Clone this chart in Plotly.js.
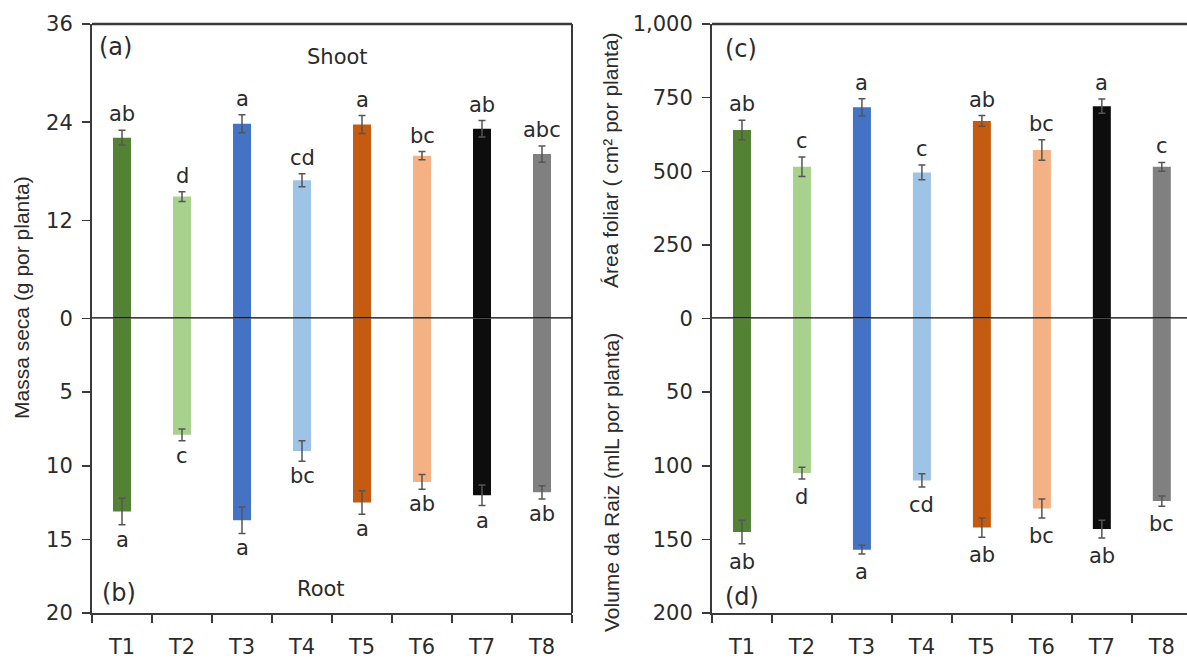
<!DOCTYPE html>
<html>
<head>
<meta charset="utf-8">
<script src="https://cdn.plot.ly/plotly-3.0.1.min.js"></script>
<style>html,body{margin:0;padding:0;background:#fff;}#chart{width:1187px;height:659px;}</style>
</head>
<body>
<div id="chart"></div>
<script>
// ---- data ----
const categories = ['T1','T2','T3','T4','T5','T6','T7','T8'];
const barColors = ['#548235','#a9d18e','#4472c4','#9dc3e6','#c55a11','#f4b183','#0d0d0d','#808080'];

const shootMass = [22.1, 14.9, 23.8, 16.9, 23.7, 19.9, 23.2, 20.1];
const shootErr  = [0.9, 0.6, 1.1, 0.8, 1.1, 0.5, 1.0, 1.0];
const shootLetters = ['ab','d','a','cd','a','bc','ab','abc'];

const rootMass = [13.1, 7.9, 13.7, 9.0, 12.5, 11.1, 12.0, 11.8];
const rootErr  = [0.9, 0.4, 0.9, 0.7, 0.8, 0.5, 0.7, 0.45];
const rootLetters = ['a','c','a','bc','a','ab','a','ab'];

const leafArea = [640, 515, 717, 496, 671, 572, 721, 515];
const leafErr  = [33, 33, 29, 25, 18, 35, 24, 15];
const leafLetters = ['ab','c','a','c','ab','bc','a','c'];

const rootVolume = [145, 105, 157, 110, 142, 129, 143, 124];
const rootVolErr = [8, 4, 3, 4.5, 6.5, 6.5, 6, 3.5];
const volLetters = ['ab','d','a','cd','ab','bc','ab','bc'];

const shootTicks = [12, 24, 36];
const rootTicks = [0, 5, 10, 15, 20];
const leafTicks = [250, 500, 750, 1000];
const leafTickText = ['250','500','750','1,000'];
const volTicks = [0, 50, 100, 150, 200];

// ---- styles ----
const W = 1187;
const HFONT = 'DejaVu Sans, Liberation Sans, Arial, sans-serif';
const VFONT = 'Liberation Sans, Arial, sans-serif';
const textColor = '#2b2b2b';
const lineColor = '#3a3a3a';

function barTrace(y, err, xa, ya) {
  return {
    type: 'bar', x: categories, y: y, xaxis: xa, yaxis: ya,
    width: 0.3,
    marker: {color: barColors, line: {width: 0}},
    error_y: {type: 'data', array: err, visible: true, color: '#555555', thickness: 1.5, width: 3.5},
    hoverinfo: 'x+y', showlegend: false
  };
}

const data = [
  barTrace(shootMass, shootErr, 'x', 'y'),
  barTrace(rootMass, rootErr, 'x', 'y2'),
  barTrace(leafArea, leafErr, 'x2', 'y3'),
  barTrace(rootVolume, rootVolErr, 'x2', 'y4')
];

const annotations = [];
function letters(vals, errs, labs, xr, yr, above, shift) {
  for (let i = 0; i < vals.length; i++) {
    annotations.push({
      xref: xr, yref: yr, x: categories[i], y: vals[i] + errs[i],
      text: labs[i], showarrow: false,
      yanchor: above ? 'bottom' : 'top', yshift: shift,
      font: {family: HFONT, size: 21, color: textColor}
    });
  }
}
letters(shootMass, shootErr, shootLetters, 'x', 'y', true, 2);
letters(rootMass, rootErr, rootLetters, 'x', 'y2', false, -1);
letters(leafArea, leafErr, leafLetters, 'x2', 'y3', true, 2);
letters(rootVolume, rootVolErr, volLetters, 'x2', 'y4', false, -4);

function paperText(txt, px, py, size, angle, family) {
  annotations.push({
    xref: 'paper', yref: 'paper', x: px / W, y: 1 - (py - 24) / 589,
    text: txt, showarrow: false, xanchor: 'center', yanchor: 'middle',
    textangle: angle || 0,
    font: {family: family || HFONT, size: size, color: textColor}
  });
}
paperText('(a)', 115, 47, 24);
paperText('Shoot', 337, 57, 21);
paperText('(b)', 119, 593, 24);
paperText('Root', 321, 589, 21);
paperText('(c)', 741, 49, 24);
paperText('(d)', 742, 597, 24);
paperText('Massa seca (g por planta)', 22, 298, 21, -90, VFONT);
paperText('Área foliar ( cm² por planta)', 611, 160, 21, -90, VFONT);
paperText('Volume da Raiz (mlL por planta)', 611, 482, 21, -90, VFONT);

const tickFont = {family: HFONT, size: 21, color: textColor};
function yAxis(domain, anchor, range, tickvals, ticktext) {
  const a = {
    domain: domain, anchor: anchor, range: range, tickvals: tickvals,
    ticks: 'outside', ticklen: 8, tickwidth: 1.5, tickcolor: lineColor,
    showline: true, linecolor: lineColor, linewidth: 2,
    showgrid: false, zeroline: false, tickfont: tickFont, ticklabelstandoff: 5,
    fixedrange: true
  };
  if (ticktext) a.ticktext = ticktext;
  return a;
}
function xAxis(domain, anchor, range) {
  return {
    domain: domain, anchor: anchor, type: 'category', categoryarray: categories,
    range: range, tickson: 'boundaries',
    ticks: 'outside', ticklen: 8, tickwidth: 1.5, tickcolor: lineColor,
    showline: true, linecolor: lineColor, linewidth: 2,
    showgrid: false, zeroline: false, tickfont: tickFont, ticklabelstandoff: 14,
    fixedrange: true
  };
}

const layout = {
  width: 1187, height: 659,
  margin: {l: 0, r: 0, t: 24, b: 46},
  paper_bgcolor: '#ffffff', plot_bgcolor: '#ffffff',
  bargap: 0.7,
  showlegend: false,
  xaxis: xAxis([92 / W, 572 / W], 'y2', [-0.5, 7.5]),
  xaxis2: xAxis([712 / W, 1], 'y4', [-0.5, 7.42]),
  yaxis: yAxis([0.5, 1], 'x', [0, 36], shootTicks),
  yaxis2: yAxis([0, 0.5], 'x', [20, 0], rootTicks),
  yaxis3: yAxis([0.5, 1], 'x2', [0, 1000], leafTicks, leafTickText),
  yaxis4: yAxis([0, 0.5], 'x2', [200, 0], volTicks),
  annotations: annotations,
  shapes: [
    // left panel frame (top + right)
    {type: 'line', xref: 'x domain', yref: 'paper', x0: 0, x1: 1, y0: 1, y1: 1, line: {color: lineColor, width: 2.5}},
    {type: 'line', xref: 'x domain', yref: 'paper', x0: 1, x1: 1, y0: 0, y1: 1, line: {color: lineColor, width: 2}},
    // right panel top border
    {type: 'line', xref: 'x2 domain', yref: 'paper', x0: 0, x1: 1, y0: 1, y1: 1, line: {color: lineColor, width: 2.5}},
    // zero lines
    {type: 'line', xref: 'x domain', yref: 'y', x0: 0, x1: 1, y0: 0, y1: 0, line: {color: '#000000', width: 2.5}},
    {type: 'line', xref: 'x2 domain', yref: 'y3', x0: 0, x1: 1, y0: 0, y1: 0, line: {color: '#000000', width: 2.5}}
  ]
};

Plotly.newPlot('chart', data, layout, {displayModeBar: false, staticPlot: true});
</script>
</body>
</html>
